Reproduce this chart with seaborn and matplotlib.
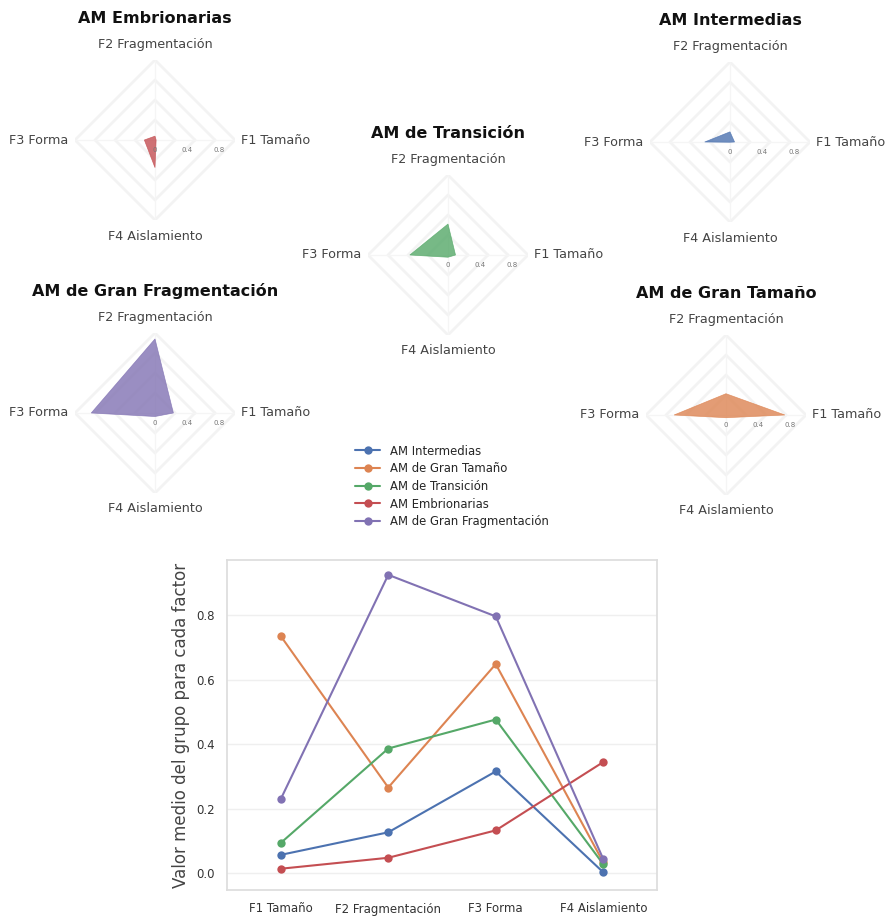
import numpy as np
import pandas as pd
import matplotlib
matplotlib.use("Agg")
import matplotlib.pyplot as plt
import seaborn as sns

# datos: valor medio de cada grupo por factor
factores = ["F1 Tamaño", "F2 Fragmentación", "F3 Forma", "F4 Aislamiento"]
grupos = ["AM Intermedias", "AM de Gran Tamaño", "AM de Transición",
          "AM Embrionarias", "AM de Gran Fragmentación"]
intermedias = [0.057, 0.127, 0.316, 0.003]
gran_tamano = [0.736, 0.266, 0.649, 0.034]
transicion = [0.094, 0.387, 0.477, 0.028]
embrionarias = [0.014, 0.048, 0.133, 0.345]
gran_fragmentacion = [0.230, 0.926, 0.797, 0.044]
radial_ticks = [0, 0.4, 0.8]
radial_rings = [0.25, 0.5, 0.75, 1.0]

valores = {
    "AM Intermedias": intermedias,
    "AM de Gran Tamaño": gran_tamano,
    "AM de Transición": transicion,
    "AM Embrionarias": embrionarias,
    "AM de Gran Fragmentación": gran_fragmentacion,
}

sns.set_theme(style="whitegrid")
colores = dict(zip(grupos, sns.color_palette("deep", 5)))

W, H = 889, 916
fig = plt.figure(figsize=(W / 100, H / 100), dpi=100)

# centro de cada radar en pixeles
centros = {
    "AM Embrionarias": (155, 140),
    "AM Intermedias": (730, 142),
    "AM de Transición": (448, 255),
    "AM de Gran Fragmentación": (155, 413),
    "AM de Gran Tamaño": (726, 415),
}
R = 80  # radio en pixeles para valor 1.0
angulos = np.array([0, np.pi / 2, np.pi, 3 * np.pi / 2])
ang_cerrado = np.append(angulos, angulos[0])
gris_txt = "#444444"

for g in ["AM Embrionarias", "AM Intermedias", "AM de Transición",
          "AM de Gran Fragmentación", "AM de Gran Tamaño"]:
    cx, cy = centros[g]
    ax = fig.add_axes([(cx - R) / W, 1 - (cy + R) / H, 2 * R / W, 2 * R / H],
                      projection="polar")
    ax.set_ylim(0, 1.0)
    ax.grid(False)
    ax.spines["polar"].set_visible(False)
    ax.set_xticks([])
    ax.set_yticks([])
    ax.set_facecolor("none")
    for r in radial_rings:
        ax.plot(ang_cerrado, [r] * 5, color="#f3f3f3", lw=2.0, zorder=1)
    for a in angulos:
        ax.plot([a, a], [0, 1.0], color="#f5f5f5", lw=1.0, zorder=1)
    vals = valores[g]
    v = vals + vals[:1]
    ax.fill(ang_cerrado, v, color=colores[g], alpha=0.8, lw=0.5, zorder=3)
    for t in radial_ticks:
        ax.annotate(f"{t:g}", xy=(0, t), xytext=(0, -7), textcoords="offset points",
                    ha="center", va="center", fontsize=5, color="#777777")
    ax.text(0, 1.08, factores[0], ha="left", va="center", fontsize=9.2, color=gris_txt)
    ax.text(np.pi / 2, 1.19, factores[1], ha="center", va="center", fontsize=9.2, color=gris_txt)
    ax.text(np.pi, 1.09, factores[2], ha="right", va="center", fontsize=9.2, color=gris_txt)
    ax.text(3 * np.pi / 2, 1.2, factores[3], ha="center", va="center", fontsize=9.2, color=gris_txt)
    ax.text(0.5, 1.26, g, transform=ax.transAxes, ha="center", va="center",
            fontsize=11.5, fontweight="bold", color="#111111")

# grafico de lineas
filas = []
for g in grupos:
    for f, v in zip(factores, valores[g]):
        filas.append({"factor": f, "valor": v, "grupo": g})
df = pd.DataFrame(filas)

ax = fig.add_axes([227 / W, 1 - 890 / H, 430 / W, 330 / H])
sns.lineplot(data=df, x="factor", y="valor", hue="grupo", hue_order=grupos,
             palette=colores, marker="o", markersize=6, mew=0, lw=1.5,
             sort=False, ax=ax)
ax.set_xlim(-0.5, 3.5)
ax.set_ylim(-0.052, 0.972)
ax.set_yticks([0, 0.2, 0.4, 0.6, 0.8])
ax.xaxis.grid(False)
ax.yaxis.grid(True, color="#efefef", lw=1)
ax.set_xlabel("")
ax.set_ylabel("Valor medio del grupo para cada factor", fontsize=12, color="#444444")
ax.tick_params(axis="both", labelsize=8.5, colors="#333333", pad=3)
for s in ax.spines.values():
    s.set_color("#dddddd")

handles, labels = ax.get_legend_handles_labels()
ax.get_legend().remove()
fig.legend(handles, labels, loc="center", bbox_to_anchor=(0.508, 0.469),
           frameon=False, fontsize=8.4, labelspacing=0.4, handlelength=2.2)

fig.savefig("out.png", dpi=100)
